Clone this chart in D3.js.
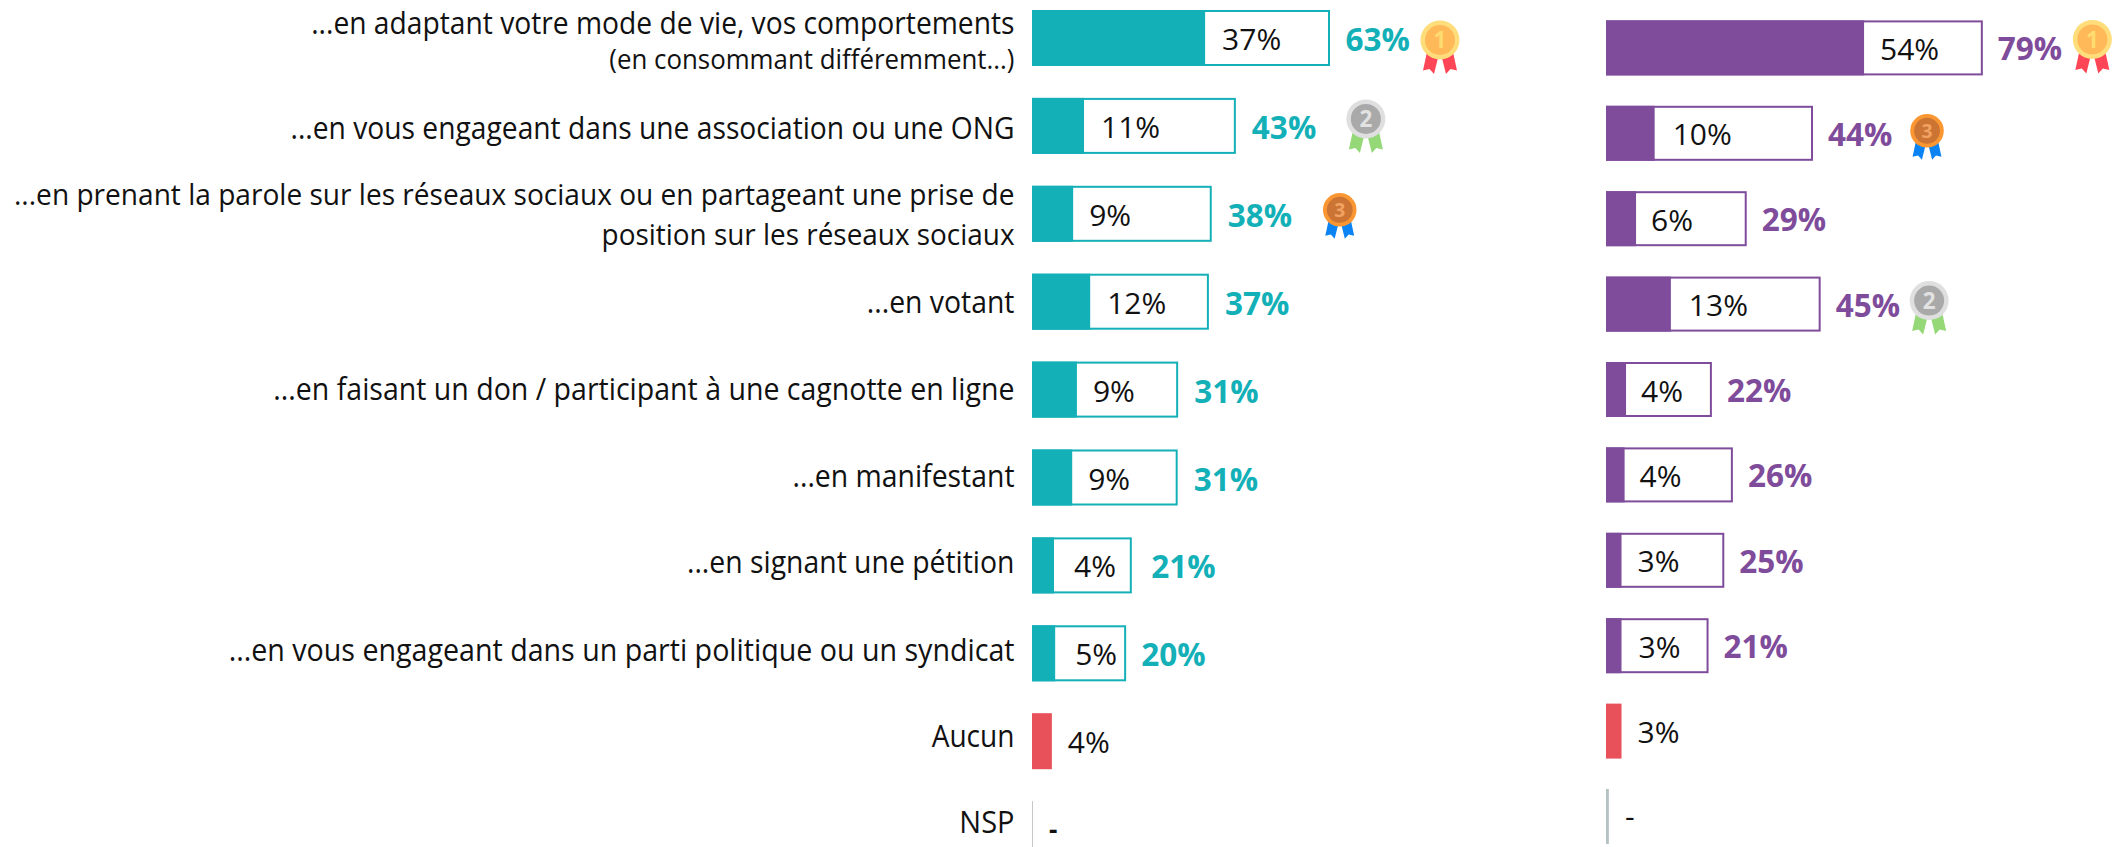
<!DOCTYPE html>
<html><head><meta charset="utf-8">
<script src="https://cdn.jsdelivr.net/npm/d3@7/dist/d3.min.js"></script>
<style>html,body{margin:0;padding:0;background:#fff;overflow:hidden}svg{display:block}text{font-family:"Open Sans",sans-serif}</style>
</head><body><script>
const categories = [
  ["...en adaptant votre mode de vie, vos comportements","(en consommant différemment...)"],
  ["...en vous engageant dans une association ou une ONG"],
  ["...en prenant la parole sur les réseaux sociaux ou en partageant une prise de","position sur les réseaux sociaux"],
  ["...en votant"],
  ["...en faisant un don / participant à une cagnotte en ligne"],
  ["...en manifestant"],
  ["...en signant une pétition"],
  ["...en vous engageant dans un parti politique ou un syndicat"],
  ["Aucun"],
  ["NSP"]
];
// Bar lengths (percent)
const leftFirst  = [36.6,11,8.7,12.3,9.5,8.5,4.65,4.9,4.2,0.2];
const leftTotal  = [63,43.1,38,37.4,30.9,30.8,21.1,19.9,null,null];
const rightFirst = [54.1,10.2,6.3,13.6,4.2,3.9,3.25,3.25,3.25,0.6];
const rightTotal = [79,43.4,29.5,45,22.2,26.6,24.8,21.5,null,null];
// Printed labels
const leftFirstLabels  = ["37%","11%","9%","12%","9%","9%","4%","5%","4%","-"];
const leftTotalLabels  = ["63%","43%","38%","37%","31%","31%","21%","20%",null,null];
const rightFirstLabels = ["54%","10%","6%","13%","4%","4%","3%","3%","3%","-"];
const rightTotalLabels = ["79%","44%","29%","45%","22%","26%","25%","21%",null,null];
const leftRanks  = [1,2,3,null,null,null,null,null,null,null];
const rightRanks = [1,3,null,2,null,null,null,null,null,null];

// Layout of the category labels
const labelBaselines = [[34,69],[138.5],[205,245],[313],[399.5],[487],[573],[661],[747],[833]];
const labelSizes     = [[30.5,27.8],[30.5],[29.2,29.2],[30.5],[30.5],[30.5],[30.5],[30.5],[30.5],[30.5]];
const labelSqueeze   = [[.925,.93],[.925],[.962,.956],[.93],[.935],[.93],[.93],[.938],[.92],[.95]];

const W=2113,H=847;
const teal="#13b0b8",purple="#7f4b9b",red="#e8515a";
const svg=d3.select("body").append("svg").attr("width",W).attr("height",H);
const idx=d3.range(categories.length);

const medalStyle={
  1:{outer:"#fedd7a",inner:"#ffb958",digit:"#ffdc72",ribbon:"#ff4656",r:19.5,s:1},
  2:{outer:"#dfdfdf",inner:"#a9a9a9",digit:"#e2e2e2",ribbon:"#95d878",r:19.5,s:1},
  3:{outer:"#fb9733",inner:"#cc7433",digit:"#f2a263",ribbon:"#0a84f5",r:16.8,s:.85}
};
function medal(g,rank){
  const m=medalStyle[rank];
  [-1,1].forEach(sgn=>{
    const p=d3.path(),s=m.s;
    p.moveTo(sgn*13*s,12*s);p.lineTo(sgn*1.5*s,16*s);p.lineTo(sgn*6*s,34*s);
    p.lineTo(sgn*10.5*s,29*s);p.lineTo(sgn*17*s,30.5*s);p.closePath();
    g.append("path").attr("d",p.toString()).attr("fill",m.ribbon);
  });
  g.append("circle").attr("r",m.r).attr("fill",m.outer);
  g.append("circle").attr("r",m.r*.77).attr("fill",m.inner);
  g.append("text").attr("text-anchor","middle").attr("y",m.r*.42).attr("font-size",m.r*1.15)
    .attr("font-weight",700).attr("fill",m.digit).text(rank);
}

function panel(o){
  const x=d3.scaleLinear().domain([0,100]).range([o.x0,o.x0+o.k*100]);
  const y=d3.scaleBand().domain(idx).range([o.top,o.top+o.step*9+o.h]).paddingInner((o.step-o.h)/o.step);
  const g=svg.append("g");
  idx.forEach(i=>{
    const yy=y(i),bw=y.bandwidth();
    if(o.total[i]!=null){
      g.append("rect").attr("x",x(0)+1).attr("y",yy+1).attr("width",x(o.total[i])-x(0)-2).attr("height",bw-2)
        .attr("fill","#fff").attr("stroke",o.color).attr("stroke-width",2);
    }
    const col=i===8?red:(i===9?o.nsp:o.color);
    g.append("rect").attr("x",x(0)).attr("y",yy).attr("width",x(o.first[i])-x(0)).attr("height",bw).attr("fill",col);
    if(o.firstLabels[i]==="-"){
      g.append("text").attr("x",x(0)+o.dashDx).attr("y",yy+o.dashBase)
        .attr("font-size",o.dashSize).attr("fill","#111").attr("font-weight",o.dashWeight).text("-");
    } else {
      g.append("text").attr("x",x(o.first[i])+o.nudge[i]).attr("y",yy+o.base)
        .attr("font-size",30).attr("fill","#111").text(o.firstLabels[i]);
    }
    if(o.total[i]!=null){
      g.append("text").attr("x",x(o.total[i])+o.gap[i]).attr("y",yy+o.totalBase)
        .attr("font-size",31.5).attr("font-weight",700).attr("fill",o.color).text(o.totalLabels[i]);
    }
    if(o.ranks[i]!=null){
      const a=o.medalAt[o.ranks[i]];
      medal(g.append("g").attr("transform",`translate(${x(o.total[i])+a[0]},${yy+a[1]})`),o.ranks[i]);
    }
  });
}
panel({x0:1032,k:4.73,top:10,step:87.9,h:56,first:leftFirst,total:leftTotal,firstLabels:leftFirstLabels,totalLabels:leftTotalLabels,
  ranks:leftRanks,color:teal,nsp:"#c4c4c4",base:40,totalBase:41,gap:[15.5,16,16,16,16,16,19.5,15],dashDx:17,dashBase:38,dashSize:26,dashWeight:700,
  nudge:[17,17,16,17,16,16,20,20,16,0],medalAt:{1:[110,30],2:[130,21],3:[128,24]}});
panel({x0:1606,k:4.77,top:20.4,step:85.4,h:55,first:rightFirst,total:rightTotal,firstLabels:rightFirstLabels,totalLabels:rightTotalLabels,
  ranks:rightRanks,color:purple,nsp:"#b5c2c4",base:39.5,totalBase:40,gap:[15,15,15,15,15,15,15,15],dashDx:19,dashBase:38,dashSize:30,dashWeight:400,
  nudge:[16,18,15,18,15,15,16,17,16,0],medalAt:{1:[109.5,19],3:[114,25],2:[108.5,24]}});

// Category labels
const labelX=1014.5;
const lab=svg.append("g");
function line(t,yy,size,sq){
  const el=lab.append("text").attr("x",labelX).attr("y",yy).attr("text-anchor","end").attr("font-size",size).attr("fill","#111").text(t);
  const n=el.node().getComputedTextLength();
  el.attr("textLength",n*sq).attr("lengthAdjust","spacingAndGlyphs");
}
categories.forEach((c,i)=>{
  c.forEach((t,j)=>line(t,labelBaselines[i][j],labelSizes[i][j],labelSqueeze[i][j]));
});
</script></body></html>
